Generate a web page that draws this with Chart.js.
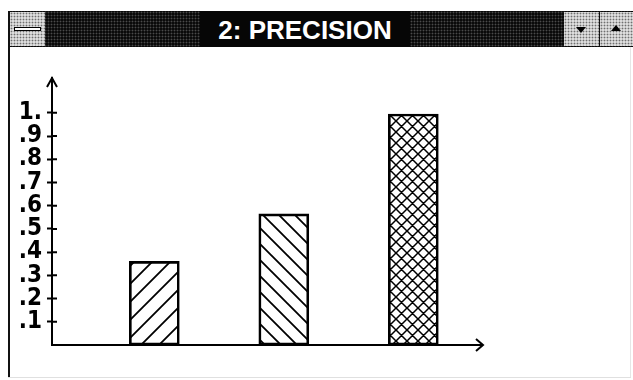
<!DOCTYPE html>
<html>
<head>
<meta charset="utf-8">
<script src="https://cdn.jsdelivr.net/npm/chart.js@4.4.1/dist/chart.umd.min.js"></script>
<style>
  html, body { margin: 0; padding: 0; background: #fff; }
  #win { position: relative; width: 633px; height: 380px; overflow: hidden; background: #fff;
         font-family: "Liberation Sans", Arial, sans-serif; }
  .frameL { position: absolute; left: 8px; top: 11px; width: 2px; height: 367px; background: #111; }
  .frameR { position: absolute; left: 630px; top: 47px; width: 1px; height: 331px; background: #e6e6e6; }
  .frameB { position: absolute; left: 8px; top: 377px; width: 623px; height: 1px; background: #e0e0e0; }
  .titlebar { position: absolute; left: 8px; top: 11px; width: 625px; height: 36px;
              background-color: #0a0a0a;
              background-image: radial-gradient(circle, #4a4a4a 0.8px, transparent 1.1px);
              background-size: 3px 3px; }
  .caption { position: absolute; left: 200px; top: 11px; width: 210px; height: 36px; background: #060606;
             color: #fff; font-weight: bold; font-size: 26px; line-height: 38px; text-align: center; }
  .box { position: absolute; top: 12px; height: 34px; background-color: #dcdcdc;
         background-image: radial-gradient(circle, #707070 0.8px, transparent 1.1px);
         background-size: 3px 3px; }
  .sysbar { position: absolute; left: 4px; top: 15px; width: 25px; height: 2px; background: #fff; border: 1px solid #000; }
  .down { position: absolute; left: 12px; top: 15px; width: 0; height: 0;
          border-left: 5px solid transparent; border-right: 5px solid transparent; border-top: 6px solid #000; }
  .up { position: absolute; left: 11px; top: 13px; width: 0; height: 0;
        border-left: 5px solid transparent; border-right: 5px solid transparent; border-bottom: 6px solid #000; }
  canvas { position: absolute; left: 0; top: 0; }
</style>
</head>
<body>
<div id="win">
  <div class="titlebar"></div>
  <div class="caption">2: PRECISION</div>
  <div class="box" style="left:10px;width:35px;"><div class="sysbar"></div></div>
  <div class="box" style="left:564px;width:35px;"><div class="down"></div></div>
  <div class="box" style="left:600px;width:33px;"><div class="up"></div></div>
  <div class="frameL"></div>
  <div class="frameR"></div>
  <div class="frameB"></div>
  <canvas id="chart" width="633" height="380"></canvas>
</div>
<script>
/* ---------- data ---------- */
const values = [0.36, 0.565, 0.995];
const tickValues = [0.1, 0.2, 0.3, 0.4, 0.5, 0.6, 0.7, 0.8, 0.9, 1.0];
const tickLabels = [".1", ".2", ".3", ".4", ".5", ".6", ".7", ".8", ".9", "1."];

/* ---------- hatch fills ---------- */
function hatch(size, kinds, width) {
  const c = document.createElement("canvas");
  c.width = size; c.height = size;
  const g = c.getContext("2d");
  g.strokeStyle = "#000";
  g.lineWidth = width;
  g.beginPath();
  kinds.forEach(k => {
    if (k === "/") {
      g.moveTo(-size, size * 2); g.lineTo(size * 2, -size);
      g.moveTo(-size, size); g.lineTo(size, -size);
      g.moveTo(0, size * 2); g.lineTo(size * 2, 0);
    } else {
      g.moveTo(-size, -size); g.lineTo(size * 2, size * 2);
      g.moveTo(0, -size); g.lineTo(size * 2, size);
      g.moveTo(-size, 0); g.lineTo(size, size * 2);
    }
  });
  g.stroke();
  return g.createPattern(c, "repeat");
}
const fills = [hatch(18, ["/"], 1.8), hatch(16, ["\\"], 1.8), hatch(11, ["/", "\\"], 1.5)];

/* ---------- axis extras: inner tick halves + arrow heads ---------- */
const axisArrows = {
  id: "axisArrows",
  afterDatasetsDraw(chart) {
    const { ctx, chartArea: a, scales: { y } } = chart;
    ctx.save();
    ctx.strokeStyle = "#000";
    ctx.lineWidth = 2;
    ctx.beginPath();
    y.ticks.forEach(t => {
      const py = y.getPixelForValue(t.value);
      ctx.moveTo(a.left, py); ctx.lineTo(a.left + 5, py);
    });
    // y arrow
    ctx.moveTo(a.left - 5, a.top + 9); ctx.lineTo(a.left, a.top); ctx.lineTo(a.left + 5, a.top + 9);
    // x axis to the tip + arrow
    ctx.moveTo(a.left, a.bottom); ctx.lineTo(a.right + 3, a.bottom);
    ctx.moveTo(a.right - 4, a.bottom - 6); ctx.lineTo(a.right + 3, a.bottom); ctx.lineTo(a.right - 4, a.bottom + 6);
    ctx.stroke();
    ctx.restore();
  }
};

new Chart(document.getElementById("chart"), {
  type: "bar",
  data: {
    datasets: [{
      data: values.map((v, i) => ({ x: i + 1, y: v })),
      backgroundColor: fills,
      borderColor: "#000",
      borderWidth: 2,
      borderSkipped: false,
      barThickness: 50
    }]
  },
  options: {
    responsive: false,
    animation: false,
    layout: { padding: { left: 15, top: 78, right: 153, bottom: 35 } },
    plugins: { legend: { display: false }, tooltip: { enabled: false } },
    scales: {
      x: {
        type: "linear",
        offset: false,
        min: 0.21,
        max: 3.515,
        ticks: { display: false },
        grid: { display: false },
        border: { display: false },
        afterFit: s => { s.height = 0; }
      },
      y: {
        min: 0,
        max: 1.15,
        afterBuildTicks: s => { s.ticks = tickValues.map(v => ({ value: v })); },
        afterFit: s => { s.width = 37; },
        ticks: {
          autoSkip: false,
          padding: 5,
          color: "#000",
          font: { family: "'DejaVu Sans Condensed', 'Liberation Sans Narrow', sans-serif", size: 24, weight: "bold", lineHeight: 1 },
          callback: (v, i) => tickLabels[i]
        },
        grid: { drawOnChartArea: false, drawTicks: true, tickLength: 5, tickColor: "#000", tickWidth: 2 },
        border: { display: true, color: "#000", width: 2 }
      }
    }
  },
  plugins: [axisArrows]
});
</script>
</body>
</html>
